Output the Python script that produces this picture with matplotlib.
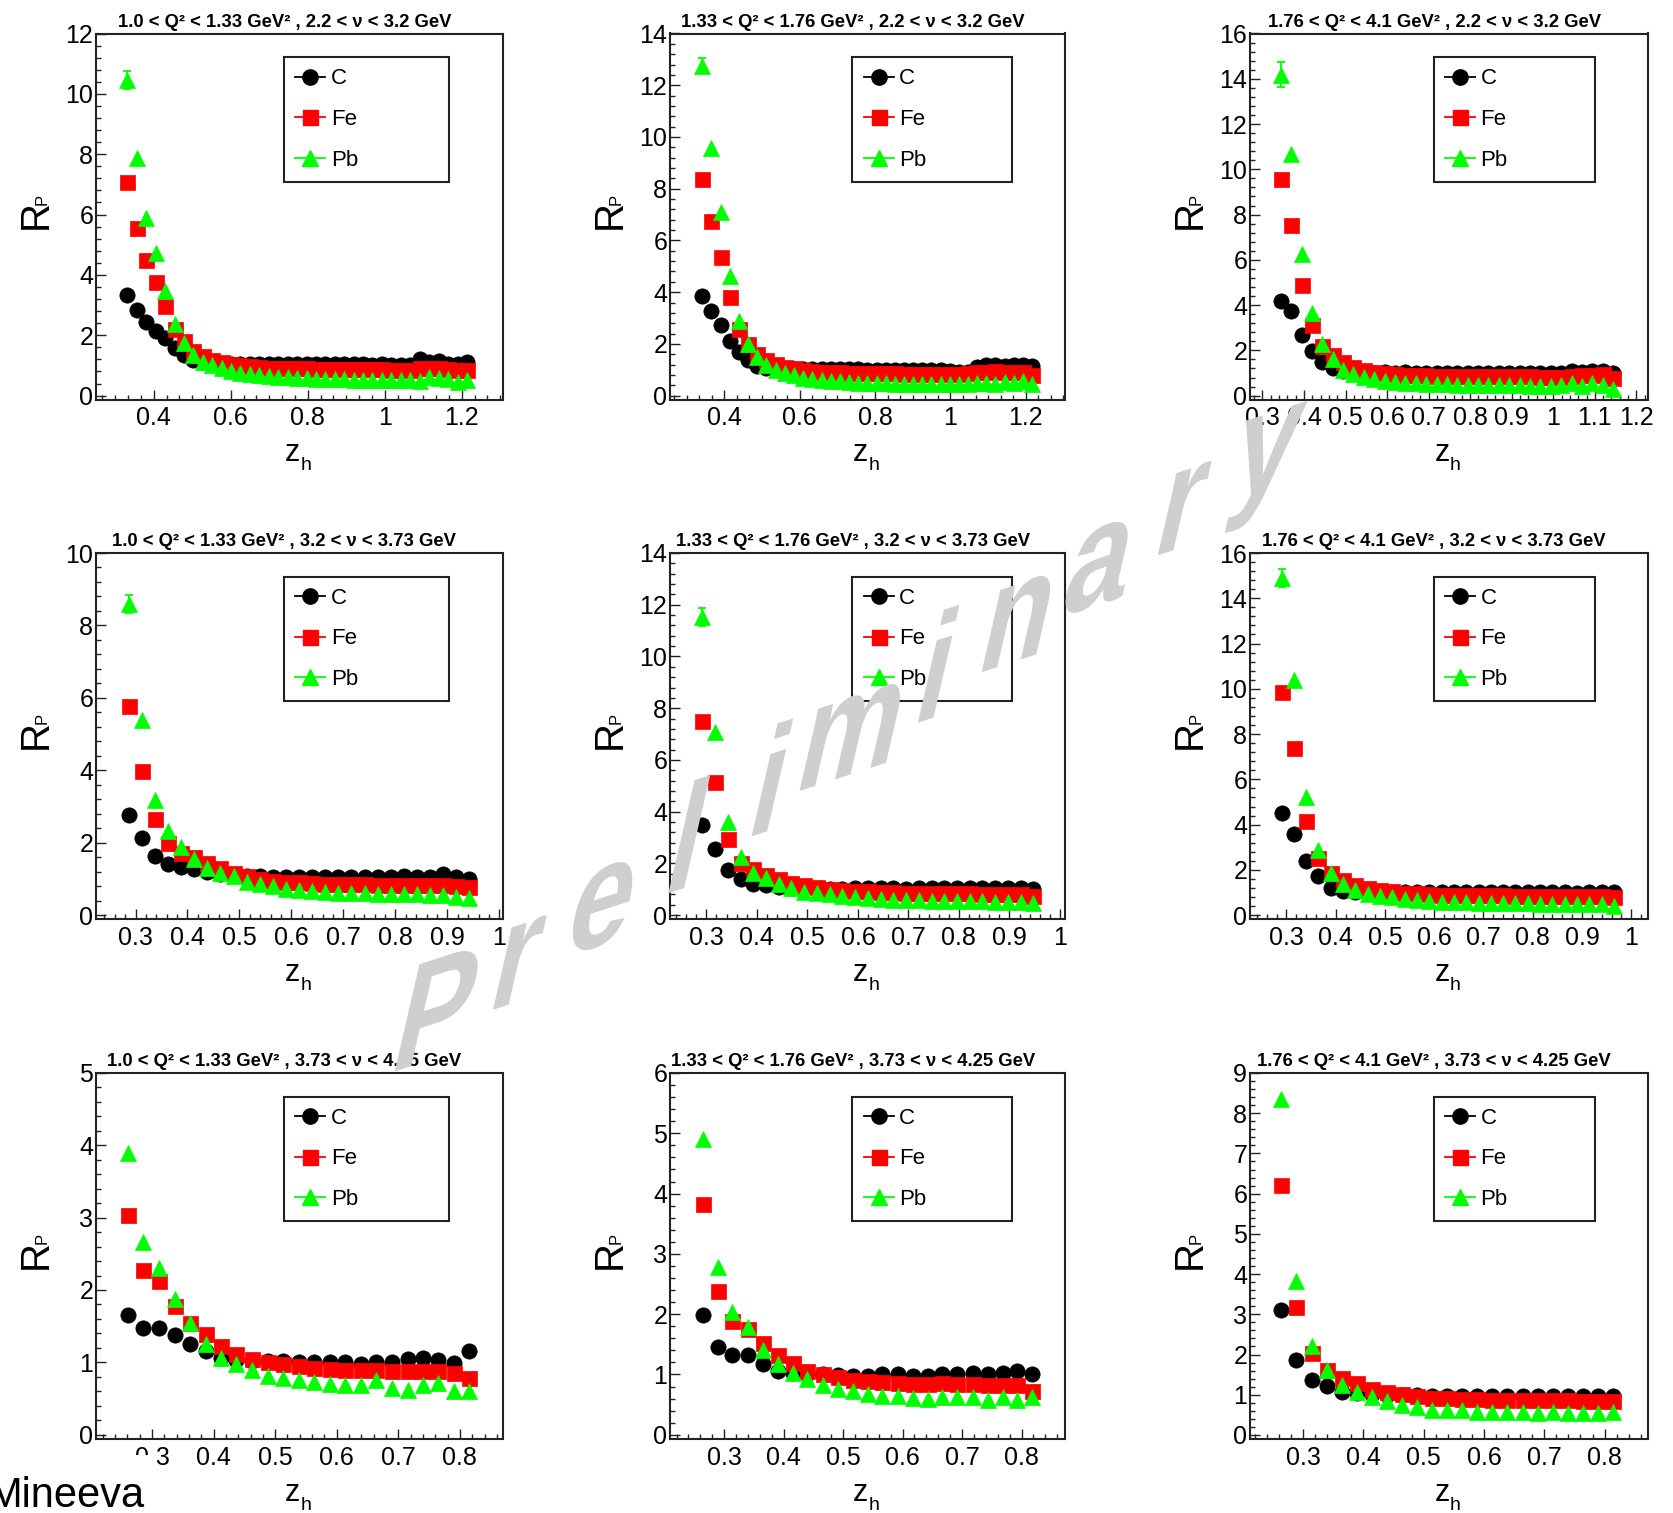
import numpy as np
import matplotlib
matplotlib.use("Agg")
import matplotlib.pyplot as plt
from matplotlib.lines import Line2D
from matplotlib.patches import Rectangle, PathPatch
from matplotlib.textpath import TextPath
from matplotlib.font_manager import FontProperties
from matplotlib.ticker import MultipleLocator, AutoMinorLocator, FormatStrFormatter
from matplotlib.transforms import Affine2D

plt.rcParams['font.family'] = ['Liberation Sans', 'DejaVu Sans']

# ---------------------------------------------------------------- data
q2_bins = ["1.0 < Q² < 1.33 GeV²", "1.33 < Q² < 1.76 GeV²", "1.76 < Q² < 4.1 GeV²"]
nu_bins = ["2.2 < ν < 3.2 GeV", "3.2 < ν < 3.73 GeV", "3.73 < ν < 4.25 GeV"]
targets = ["C", "Fe", "Pb"]

# row 1 : 2.2 < nu < 3.2
zh_11 = [0.331, 0.356, 0.380, 0.405, 0.429, 0.454, 0.478, 0.503, 0.527, 0.552, 0.576, 0.601, 0.625,
         0.650, 0.674, 0.699, 0.723, 0.748, 0.772, 0.797, 0.821, 0.846, 0.870, 0.895, 0.919, 0.944,
         0.968, 0.993, 1.017, 1.042, 1.066, 1.091, 1.115, 1.140, 1.164, 1.189, 1.213]
c_11 = [3.32, 2.82, 2.45, 2.15, 1.90, 1.58, 1.35, 1.18, 1.10, 1.07, 1.05, 1.05, 1.04, 1.05, 1.04, 1.04,
        1.05, 1.04, 1.03, 1.04, 1.03, 1.06, 1.04, 1.03, 1.04, 1.03, 1.02, 1.03, 1.02, 1.01, 1.02, 1.22,
        1.10, 1.15, 1.05, 1.06, 1.12]
fe_11 = [7.07, 5.55, 4.48, 3.77, 2.98, 2.20, 1.80, 1.48, 1.30, 1.18, 1.10, 1.04, 1.00, 0.97, 0.95, 0.93,
         0.92, 0.91, 0.90, 0.90, 0.89, 0.89, 0.88, 0.88, 0.88, 0.87, 0.87, 0.87, 0.86, 0.86, 0.86, 0.90,
         0.92, 0.92, 0.88, 0.86, 0.84]
pb_11 = [10.47, 7.86, 5.88, 4.73, 3.46, 2.36, 1.75, 1.35, 1.12, 1.00, 0.90, 0.82, 0.76, 0.72, 0.68, 0.65,
         0.62, 0.60, 0.58, 0.57, 0.56, 0.55, 0.55, 0.54, 0.53, 0.53, 0.52, 0.52, 0.50, 0.50, 0.52, 0.48,
         0.62, 0.58, 0.55, 0.45, 0.50]

zh_12 = [0.342, 0.366, 0.391, 0.415, 0.439, 0.464, 0.488, 0.512, 0.536, 0.561, 0.585, 0.609, 0.634,
         0.658, 0.682, 0.706, 0.731, 0.755, 0.779, 0.804, 0.828, 0.852, 0.876, 0.901, 0.925, 0.949,
         0.974, 0.998, 1.022, 1.046, 1.071, 1.095, 1.119, 1.144, 1.168, 1.192, 1.216]
c_12 = [3.87, 3.29, 2.73, 2.13, 1.70, 1.38, 1.15, 1.05, 1.02, 1.02, 1.02, 1.03, 1.03, 1.02, 1.02, 1.01,
        1.01, 1.01, 1.00, 1.00, 1.00, 1.00, 1.00, 1.00, 1.00, 1.00, 0.99, 0.95, 0.92, 0.90, 1.12, 1.18,
        1.20, 1.15, 1.18, 1.18, 1.15]
fe_12 = [8.38, 6.77, 5.35, 3.80, 2.58, 2.00, 1.62, 1.38, 1.22, 1.12, 1.05, 1.00, 0.96, 0.93, 0.91, 0.90,
         0.89, 0.88, 0.87, 0.87, 0.86, 0.86, 0.85, 0.85, 0.85, 0.84, 0.84, 0.82, 0.82, 0.86, 0.90, 0.92,
         0.94, 0.90, 0.92, 0.92, 0.78]
pb_12 = [12.76, 9.56, 7.09, 4.64, 2.90, 2.00, 1.48, 1.20, 1.00, 0.88, 0.78, 0.70, 0.65, 0.60, 0.58, 0.55,
         0.52, 0.50, 0.50, 0.48, 0.48, 0.46, 0.46, 0.45, 0.45, 0.45, 0.44, 0.44, 0.43, 0.45, 0.48, 0.50,
         0.46, 0.52, 0.48, 0.55, 0.45]

zh_13 = [0.344, 0.369, 0.394, 0.419, 0.444, 0.469, 0.494, 0.519, 0.544, 0.569, 0.594, 0.619, 0.644,
         0.669, 0.694, 0.719, 0.744, 0.769, 0.794, 0.819, 0.844, 0.869, 0.894, 0.919, 0.944, 0.969,
         0.994, 1.019, 1.044, 1.069, 1.094, 1.119, 1.144]
c_13 = [4.17, 3.75, 2.68, 1.98, 1.50, 1.22, 1.08, 1.03, 1.02, 1.02, 1.03, 1.02, 1.03, 1.02, 1.02, 1.01,
        1.02, 1.02, 1.01, 1.01, 1.00, 1.01, 1.01, 1.00, 1.00, 1.01, 0.98, 1.00, 1.08, 1.05, 1.08, 1.08,
        1.00]
fe_13 = [9.56, 7.55, 4.87, 3.12, 2.20, 1.80, 1.50, 1.25, 1.12, 1.05, 1.00, 0.96, 0.93, 0.91, 0.90, 0.89,
         0.88, 0.87, 0.87, 0.86, 0.86, 0.86, 0.85, 0.85, 0.85, 0.84, 0.84, 0.82, 0.88, 0.90, 0.92, 0.95,
         0.80]
pb_13 = [14.17, 10.66, 6.27, 3.63, 2.30, 1.60, 1.15, 0.95, 0.82, 0.72, 0.65, 0.60, 0.58, 0.55, 0.52, 0.50,
         0.50, 0.48, 0.47, 0.46, 0.46, 0.45, 0.45, 0.45, 0.44, 0.43, 0.42, 0.45, 0.55, 0.42, 0.55, 0.45,
         0.30]

# row 2 : 3.2 < nu < 3.73
zh_21 = [0.287, 0.312, 0.337, 0.363, 0.388, 0.413, 0.438, 0.463, 0.489, 0.514, 0.539, 0.564, 0.589,
         0.615, 0.640, 0.665, 0.690, 0.715, 0.741, 0.766, 0.791, 0.816, 0.841, 0.867, 0.892, 0.917, 0.942]
c_21 = [2.75, 2.12, 1.63, 1.40, 1.33, 1.27, 1.18, 1.12, 1.10, 1.08, 1.07, 1.06, 1.05, 1.05, 1.05, 1.04,
        1.05, 1.05, 1.06, 1.05, 1.06, 1.08, 1.06, 1.05, 1.12, 1.05, 1.00]
fe_21 = [5.78, 3.99, 2.66, 2.00, 1.72, 1.59, 1.45, 1.31, 1.17, 1.08, 1.00, 0.95, 0.92, 0.90, 0.88, 0.87,
         0.86, 0.85, 0.85, 0.84, 0.84, 0.83, 0.83, 0.82, 0.82, 0.80, 0.78]
pb_21 = [8.58, 5.38, 3.17, 2.32, 1.89, 1.56, 1.31, 1.16, 1.08, 0.90, 0.85, 0.80, 0.72, 0.68, 0.65, 0.63,
         0.62, 0.60, 0.60, 0.58, 0.58, 0.57, 0.57, 0.55, 0.56, 0.50, 0.48]

zh_22 = [0.292, 0.317, 0.342, 0.368, 0.393, 0.418, 0.443, 0.468, 0.494, 0.519, 0.544, 0.569, 0.594,
         0.620, 0.645, 0.670, 0.695, 0.720, 0.746, 0.771, 0.796, 0.821, 0.846, 0.872, 0.897, 0.922, 0.947]
c_22 = [3.48, 2.55, 1.74, 1.38, 1.20, 1.15, 1.08, 1.05, 1.03, 1.02, 1.02, 1.02, 1.03, 1.04, 1.04, 1.03,
        1.02, 1.03, 1.04, 1.04, 1.03, 1.04, 1.04, 1.03, 1.04, 1.03, 1.00]
fe_22 = [7.50, 5.15, 2.96, 2.00, 1.78, 1.55, 1.38, 1.25, 1.15, 1.08, 1.02, 0.98, 0.95, 0.92, 0.90, 0.88,
         0.87, 0.86, 0.85, 0.85, 0.84, 0.84, 0.83, 0.83, 0.82, 0.80, 0.72]
pb_22 = [11.53, 7.09, 3.60, 2.26, 1.64, 1.42, 1.20, 1.03, 0.90, 0.85, 0.80, 0.74, 0.70, 0.66, 0.63, 0.60,
         0.58, 0.57, 0.56, 0.55, 0.54, 0.54, 0.53, 0.52, 0.52, 0.50, 0.48]

zh_23 = [0.290, 0.315, 0.340, 0.365, 0.390, 0.415, 0.440, 0.465, 0.490, 0.515, 0.540, 0.565, 0.590,
         0.615, 0.640, 0.665, 0.690, 0.715, 0.740, 0.765, 0.790, 0.815, 0.840, 0.865, 0.890, 0.915,
         0.940, 0.965]
c_23 = [4.53, 3.57, 2.40, 1.74, 1.22, 1.05, 1.03, 1.02, 1.02, 1.02, 1.02, 1.02, 1.02, 1.02, 1.02, 1.02,
        1.02, 1.02, 1.02, 1.02, 1.02, 1.02, 1.02, 1.01, 0.98, 1.02, 1.02, 1.02]
fe_23 = [9.85, 7.40, 4.16, 2.54, 1.85, 1.55, 1.35, 1.22, 1.12, 1.05, 1.00, 0.96, 0.93, 0.91, 0.90, 0.89,
         0.88, 0.87, 0.87, 0.86, 0.86, 0.85, 0.85, 0.85, 0.84, 0.84, 0.83, 0.80]
pb_23 = [14.90, 10.40, 5.24, 2.90, 1.88, 1.37, 1.12, 0.95, 0.85, 0.78, 0.72, 0.66, 0.62, 0.60, 0.58, 0.56,
         0.55, 0.54, 0.53, 0.52, 0.52, 0.51, 0.50, 0.50, 0.49, 0.48, 0.48, 0.40]

# row 3 : 3.73 < nu < 4.25
zh_31 = [0.261, 0.286, 0.311, 0.337, 0.362, 0.387, 0.412, 0.437, 0.463, 0.488, 0.513, 0.538, 0.563,
         0.589, 0.614, 0.639, 0.664, 0.689, 0.715, 0.740, 0.765, 0.790, 0.815]
c_31 = [1.66, 1.48, 1.48, 1.38, 1.25, 1.15, 1.06, 1.03, 1.02, 1.02, 1.02, 1.01, 1.01, 1.00, 1.00, 0.98,
        1.01, 1.01, 1.04, 1.06, 1.03, 0.99, 1.16]
fe_31 = [3.03, 2.27, 2.12, 1.78, 1.55, 1.39, 1.22, 1.11, 1.04, 1.00, 0.97, 0.95, 0.92, 0.91, 0.90, 0.90,
         0.90, 0.88, 0.88, 0.88, 0.88, 0.85, 0.79]
pb_31 = [3.89, 2.66, 2.30, 1.87, 1.54, 1.26, 1.06, 0.97, 0.89, 0.81, 0.79, 0.76, 0.73, 0.70, 0.68, 0.68,
         0.75, 0.65, 0.62, 0.69, 0.72, 0.60, 0.60]

zh_32 = [0.264, 0.289, 0.314, 0.340, 0.365, 0.390, 0.415, 0.440, 0.466, 0.491, 0.516, 0.541, 0.566,
         0.592, 0.617, 0.642, 0.667, 0.692, 0.718, 0.743, 0.768, 0.793, 0.818]
c_32 = [1.98, 1.46, 1.33, 1.33, 1.18, 1.06, 1.02, 1.00, 1.00, 0.99, 0.98, 0.98, 1.00, 1.00, 0.97, 0.98,
        1.00, 1.00, 1.02, 1.00, 1.02, 1.05, 1.00]
fe_32 = [3.82, 2.38, 1.88, 1.75, 1.52, 1.32, 1.19, 1.06, 1.00, 0.95, 0.91, 0.89, 0.87, 0.86, 0.85, 0.84,
         0.86, 0.84, 0.85, 0.83, 0.83, 0.82, 0.72]
pb_32 = [4.90, 2.79, 2.04, 1.79, 1.41, 1.18, 1.03, 0.93, 0.82, 0.76, 0.72, 0.68, 0.65, 0.65, 0.61, 0.60,
         0.62, 0.62, 0.62, 0.57, 0.62, 0.58, 0.63]

zh_33 = [0.264, 0.289, 0.314, 0.339, 0.364, 0.389, 0.414, 0.439, 0.464, 0.489, 0.514, 0.539, 0.564,
         0.589, 0.614, 0.639, 0.664, 0.689, 0.714, 0.739, 0.764, 0.789, 0.814]
c_33 = [3.10, 1.87, 1.37, 1.21, 1.08, 1.05, 1.02, 1.00, 1.00, 1.00, 0.98, 0.98, 0.98, 0.97, 0.98, 0.97,
        0.98, 0.97, 0.98, 0.98, 0.97, 0.97, 0.97]
fe_33 = [6.22, 3.19, 2.04, 1.62, 1.41, 1.28, 1.15, 1.08, 1.03, 0.97, 0.93, 0.91, 0.90, 0.89, 0.88, 0.87,
         0.87, 0.87, 0.86, 0.86, 0.85, 0.85, 0.85]
pb_33 = [8.36, 3.84, 2.20, 1.62, 1.25, 1.08, 0.95, 0.85, 0.75, 0.70, 0.62, 0.62, 0.62, 0.58, 0.58, 0.56,
         0.56, 0.55, 0.56, 0.55, 0.55, 0.55, 0.56]

# statistical error on the lowest-z_h Pb point of each bin
pb_first_err = [0.30, 0.30, 0.55, 0.25, 0.35, 0.40, 0.0, 0.0, 0.0]

zh = [zh_11, zh_12, zh_13, zh_21, zh_22, zh_23, zh_31, zh_32, zh_33]
r_c = [c_11, c_12, c_13, c_21, c_22, c_23, c_31, c_32, c_33]
r_fe = [fe_11, fe_12, fe_13, fe_21, fe_22, fe_23, fe_31, fe_32, fe_33]
r_pb = [pb_11, pb_12, pb_13, pb_21, pb_22, pb_23, pb_31, pb_32, pb_33]

# ---------------------------------------------------------------- layout
W, H = 1673, 1513
col_left = [96, 670, 1250]
col_width = [407, 395, 398]
row_top = [33.5, 553, 1073]
row_height = 366

x_lims = [(0.250, 1.307), (0.256, 1.304), (0.270, 1.228),
          (0.224, 1.007), (0.228, 1.010), (0.226, 1.034),
          (0.209, 0.870), (0.209, 0.873), (0.212, 0.872)]
y_lims = [(-0.13, 12), (-0.15, 14), (-0.17, 16),
          (-0.11, 10), (-0.15, 14), (-0.17, 16),
          (-0.06, 5), (-0.07, 6), (-0.10, 9)]
x_major = [0.2, 0.2, 0.1, 0.1, 0.1, 0.1, 0.1, 0.1, 0.1]
x_minor = [6, 6, 5, 5, 5, 5, 5, 5, 5]
y_major = [2, 2, 2, 2, 2, 2, 1, 1, 1]

styles = {
    "C": dict(color="black", marker="o", ms=11),
    "Fe": dict(color="#ff0000", marker="s", ms=10.8),
    "Pb": dict(color="#00ff00", marker="^", ms=12),
}

fig = plt.figure(figsize=(W / 100, H / 100), dpi=100)
fig.patch.set_facecolor("white")


def add_labels(ax):
    # z_h below the axis and R_P at the left, subscripts drawn small like ROOT does
    kw = dict(xycoords="axes fraction", textcoords="offset points", va="baseline", ha="center")
    ax.annotate("z", xy=(0.5, 0), xytext=(-5, -44.6), fontsize=22, **kw)
    ax.annotate("h", xy=(0.5, 0), xytext=(4.7, -51), fontsize=14, **kw)
    ax.annotate("R", xy=(0, 0.5), xytext=(-35.3, 1.4), fontsize=29, rotation=90,
                rotation_mode="anchor", **kw)
    ax.annotate("P", xy=(0, 0.5), xytext=(-35.3, 12.5), fontsize=12, rotation=90,
                rotation_mode="anchor", **kw)


for i in range(9):
    row, col = divmod(i, 3)
    left = col_left[col] / W
    bottom = 1 - (row_top[row] + row_height) / H
    ax = fig.add_axes([left, bottom, col_width[col] / W, row_height / H])

    series = {"C": r_c[i], "Fe": r_fe[i], "Pb": r_pb[i]}
    x = zh[i]
    if pb_first_err[i] > 0:
        ax.errorbar(x[:1], r_pb[i][:1], yerr=[pb_first_err[i]], fmt="none",
                    ecolor="#00ff00", elinewidth=1.3, capsize=3, capthick=1.3, zorder=2)
    for t in targets:
        st = styles[t]
        ax.plot(x, series[t], ls="none", marker=st["marker"], ms=st["ms"],
                color=st["color"], mec=st["color"], mew=0.5, zorder=3)

    ax.set_xlim(*x_lims[i])
    ax.set_ylim(*y_lims[i])
    ax.xaxis.set_major_locator(MultipleLocator(x_major[i]))
    ax.xaxis.set_minor_locator(AutoMinorLocator(x_minor[i]))
    ax.yaxis.set_major_locator(MultipleLocator(y_major[i]))
    ax.yaxis.set_minor_locator(AutoMinorLocator(5))
    ax.xaxis.set_major_formatter(FormatStrFormatter("%g"))
    ax.yaxis.set_major_formatter(FormatStrFormatter("%g"))
    ax.tick_params(which="both", direction="in", top=False, right=False, width=1.0, color="#222222")
    ax.tick_params(which="major", length=7, labelsize=18)
    ax.tick_params(which="minor", length=3.6)
    ax.tick_params(axis="x", which="major", pad=5)
    ax.tick_params(axis="y", which="major", pad=2)
    for sp in ax.spines.values():
        sp.set_linewidth(1.5)
        sp.set_color("#222222")

    title = f"{q2_bins[col]} , {nu_bins[row]}"
    ax.text(0.463, 1 + 6.6 / row_height, title, transform=ax.transAxes,
            ha="center", va="baseline", fontsize=13.3, fontweight="bold")
    add_labels(ax)

    handles = [Line2D([], [], color=styles[t]["color"], marker=styles[t]["marker"],
                      ms=styles[t]["ms"], mec=styles[t]["color"], lw=1.3) for t in targets]
    leg = ax.legend(handles, targets, loc="upper left", mode="expand",
                    bbox_to_anchor=(0.462, 0.5, 0.405, 0.435), borderaxespad=0,
                    fontsize=16, handlelength=1.35, handletextpad=0.25, borderpad=0.5,
                    labelspacing=0.88, fancybox=False, framealpha=1, edgecolor="#222222",
                    numpoints=1)
    leg.get_frame().set_linewidth(1.5)

# author tag in the bottom-left corner
fig.add_artist(Rectangle((0, 0), 155 / W, 58 / H, transform=fig.transFigure,
                         facecolor="white", edgecolor="none", zorder=5))
fig.text(-12 / W, 6 / H, "Mineeva", fontsize=30, ha="left", va="baseline", zorder=6)

# skewed "Preliminary" watermark: each letter sheared, laid out along a rising baseline
wm_font = FontProperties(family="Liberation Sans", weight="bold")
psi, phi = np.radians(18), np.radians(77)
gw, gh = 120, 160                      # glyph scale along its base / up directions (px per em)
shear = Affine2D(np.array([[gw * np.cos(psi), gh * np.cos(phi), 0],
                           [gw * np.sin(psi), gh * np.sin(phi), 0],
                           [0, 0, 1]]))
start = np.array([427.0, H - 1061.0])
end = np.array([1258.0, H - 493.0])
word = "Preliminary"
for k, ch in enumerate(word):
    tp = TextPath((0, 0), ch, size=1, prop=wm_font)
    ext = tp.get_extents()
    cx = 0.5 * (ext.x0 + ext.x1)
    pos = start + (end - start) * k / (len(word) - 1)
    tr = Affine2D().translate(-cx, 0) + shear + Affine2D().translate(*pos)
    fig.add_artist(PathPatch(tp, transform=tr, facecolor="#cfcfcf",
                             edgecolor="none", zorder=20))

fig.savefig("out.png", dpi=100, facecolor="white")
